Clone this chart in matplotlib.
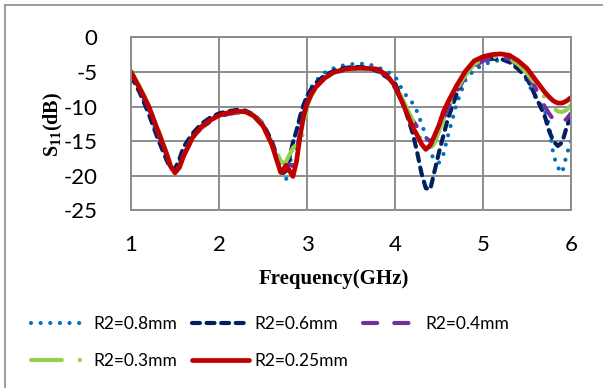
import matplotlib
matplotlib.use("Agg")
import matplotlib.pyplot as plt
from matplotlib.lines import Line2D

plt.rcParams['mathtext.fontset'] = 'custom'
plt.rcParams['mathtext.rm'] = 'Liberation Serif'
plt.rcParams['mathtext.bf'] = 'Liberation Serif:bold'
plt.rcParams['axes.unicode_minus'] = False

freq = [1.0, 1.1, 1.2, 1.3, 1.4, 1.45, 1.5, 1.55, 1.6, 1.7, 1.8, 1.9, 2.0, 2.1, 2.2, 2.3, 2.4, 2.5,
        2.6, 2.65, 2.7, 2.73, 2.76, 2.8, 2.84, 2.88, 2.92, 2.96, 3.0, 3.05, 3.1, 3.2, 3.3, 3.4, 3.5,
        3.6, 3.7, 3.8, 3.9, 4.0, 4.1, 4.2, 4.25, 4.3, 4.35, 4.4, 4.45, 4.5, 4.55, 4.6, 4.7, 4.8, 4.9,
        5.0, 5.1, 5.2, 5.3, 5.4, 5.5, 5.6, 5.7, 5.75, 5.8, 5.85, 5.9, 5.95, 6.0]

s11_r08 = [-5.3, -7.8, -10.6, -14.0, -17.0, -18.5, -19.1, -18.2, -16.5, -14.2, -12.8, -11.8, -11.2, -10.8,
           -10.6, -10.7, -11.3, -12.6, -15.2, -17.3, -19.4, -20.0, -20.6, -19.0, -15.2, -13.5, -11.8, -10.0,
           -8.5, -7.2, -6.3, -5.1, -4.5, -4.1, -3.9, -3.8, -3.9, -4.3, -4.9, -5.6, -8.0, -9.5, -10.7, -12.4,
           -14.2, -16.6, -17.8, -18.1, -16.9, -14.3, -9.6, -6.2, -4.7, -4.0, -3.5, -3.3, -3.3, -4.2, -6.3,
           -8.8, -10.5, -12.6, -17.0, -18.8, -19.6, -17.0, -15.0]

s11_r06 = [-5.6, -8.0, -11.0, -14.5, -17.6, -19.0, -19.0, -17.6, -15.8, -13.9, -12.5, -11.6, -11.0, -10.7,
           -10.5, -10.6, -11.2, -12.5, -15.0, -16.8, -18.8, -19.6, -19.3, -17.5, -15.2, -13.5, -11.5, -9.8,
           -8.5, -7.4, -6.6, -5.5, -4.9, -4.5, -4.3, -4.3, -4.4, -4.9, -5.7, -6.6, -9.8, -13.8, -16.5, -19.6,
           -21.8, -22.0, -19.3, -16.6, -14.2, -11.8, -8.2, -5.4, -3.9, -3.4, -3.1, -3.1, -3.6, -4.6, -5.9,
           -8.6, -11.3, -13.5, -15.0, -15.7, -15.2, -13.0, -11.2]

s11_r04 = [-5.0, -7.5, -10.1, -13.6, -17.0, -18.7, -19.4, -18.6, -16.9, -14.6, -13.1, -12.2, -11.5, -11.1,
           -10.9, -10.9, -11.5, -12.8, -15.3, -17.2, -19.0, -19.2, -18.3, -18.4, -18.6, -16.5, -13.8, -11.2,
           -9.4, -8.2, -7.2, -5.9, -5.2, -4.8, -4.6, -4.5, -4.5, -4.7, -5.6, -7.3, -9.8, -12.0, -12.9, -13.8,
           -14.6, -15.0, -14.6, -13.2, -11.8, -10.3, -7.8, -5.6, -4.2, -3.4, -3.0, -2.9, -3.1, -4.0, -5.3,
           -7.4, -10.0, -11.0, -11.9, -12.3, -12.3, -11.8, -11.0]

s11_r03 = [-4.8, -7.2, -9.7, -13.0, -16.5, -18.4, -19.4, -18.7, -17.0, -14.5, -13.0, -12.1, -11.4, -11.0,
           -10.8, -10.8, -11.3, -12.6, -15.0, -16.5, -17.8, -18.2, -18.0, -17.0, -16.0, -15.5, -15.8, -13.5,
           -10.0, -8.4, -7.3, -6.0, -5.2, -4.8, -4.6, -4.5, -4.5, -4.6, -5.3, -6.8, -9.3, -12.0, -13.5, -14.8,
           -15.8, -16.1, -15.3, -13.6, -11.9, -10.2, -7.6, -5.4, -3.9, -3.2, -2.9, -2.8, -3.0, -3.9, -5.2,
           -6.8, -8.7, -9.5, -10.2, -10.7, -10.8, -10.5, -9.8]

s11_r025 = [-5.0, -7.4, -9.9, -13.3, -16.7, -18.6, -19.6, -18.8, -17.1, -14.5, -12.9, -12.0, -11.3, -10.9,
            -10.7, -10.75, -11.4, -12.8, -15.5, -17.5, -19.5, -19.4, -18.5, -19.3, -20.1, -18.0, -14.4, -11.5,
            -9.6, -8.2, -7.2, -5.9, -5.1, -4.7, -4.5, -4.45, -4.5, -4.6, -5.4, -7.0, -9.9, -13.0, -14.1, -15.4,
            -16.2, -15.6, -14.2, -12.7, -10.8, -9.4, -7.0, -4.9, -3.4, -2.8, -2.5, -2.4, -2.6, -3.4, -4.5,
            -6.2, -7.9, -8.6, -9.2, -9.5, -9.5, -9.2, -8.7]

labels = ['R2=0.8mm', 'R2=0.6mm', 'R2=0.4mm', 'R2=0.3mm', 'R2=0.25mm']
x_ticks = [1, 2, 3, 4, 5, 6]
y_ticks = [0, -5, -10, -15, -20, -25]

W, H = 603, 388
fig = plt.figure(figsize=(W / 100, H / 100), dpi=100)
ax = fig.add_axes([131 / W, 1 - 210.3 / H, 440 / W, 173 / H])

lw = 3.0
styles = [
    dict(color='#0070C0', linestyle=(0, (0.01, 2.3)), dash_capstyle='round'),
    dict(color='#002060', linestyle=(0, (1.9, 1.6)), dash_capstyle='round'),
    dict(color='#7030A0', linestyle=(0, (3.4, 4.1)), dash_capstyle='round'),
    dict(color='#92D050', linestyle=(0, (7.4, 4.3, 0.01, 4.3)), dash_capstyle='round'),
    dict(color='#C00000', linestyle='-', solid_capstyle='round'),
]
series = [s11_r08, s11_r06, s11_r04, s11_r03, s11_r025]
handles = []
for ys, lab, st in zip(series, labels, styles):
    ln, = ax.plot(freq, ys, lw=lw if st['color'] != '#C00000' else 3.4, label=lab, **st)
    handles.append(ln)

ax.set_xlim(1, 6)
ax.set_ylim(-25, 0)
ax.set_xticks(x_ticks)
ax.set_yticks(y_ticks)
ax.grid(True, color='#8c8c8c', lw=1.4)
ax.set_axisbelow(True)
for sp in ax.spines.values():
    sp.set_color('#8c8c8c')
    sp.set_linewidth(1.4)
ax.tick_params(length=0, labelsize=16)
for t in ax.get_xticklabels() + ax.get_yticklabels():
    t.set_fontfamily('Lato')
ax.tick_params(axis='x', pad=18)
ax.tick_params(axis='y', pad=24)

fig.text(334 / W, 1 - 279 / H, 'Frequency(GHz)', ha='center', va='center',
         fontsize=15, fontweight='bold', family='Liberation Serif')
fig.text(53 / W, 1 - 124 / H, r'$\mathbf{S}_{\mathbf{11}}\mathbf{(dB)}$', ha='center', va='center',
         rotation=90, fontsize=14.5)

# legend filled row by row (matplotlib fills column by column)
order = [0, 3, 1, 4, 2]
leg = fig.legend(handles=[handles[i] for i in order], labels=[labels[i] for i in order],
                 loc='upper left', bbox_to_anchor=(22 / W, 1 - 307 / H), ncol=3,
                 frameon=False, prop={'family': 'Lato', 'size': 12.5}, handlelength=3.3,
                 handletextpad=0.3, columnspacing=0.85, labelspacing=1.25, borderpad=0)

# outer chart border (left and top edges visible)
fig.add_artist(Line2D([5 / W, 5 / W], [0, 1 - 5 / H], transform=fig.transFigure, color='#8c8c8c', lw=1.2))
fig.add_artist(Line2D([5 / W, 1], [1 - 5 / H, 1 - 5 / H], transform=fig.transFigure, color='#8c8c8c', lw=1.2))

fig.savefig('out.png', dpi=100)
